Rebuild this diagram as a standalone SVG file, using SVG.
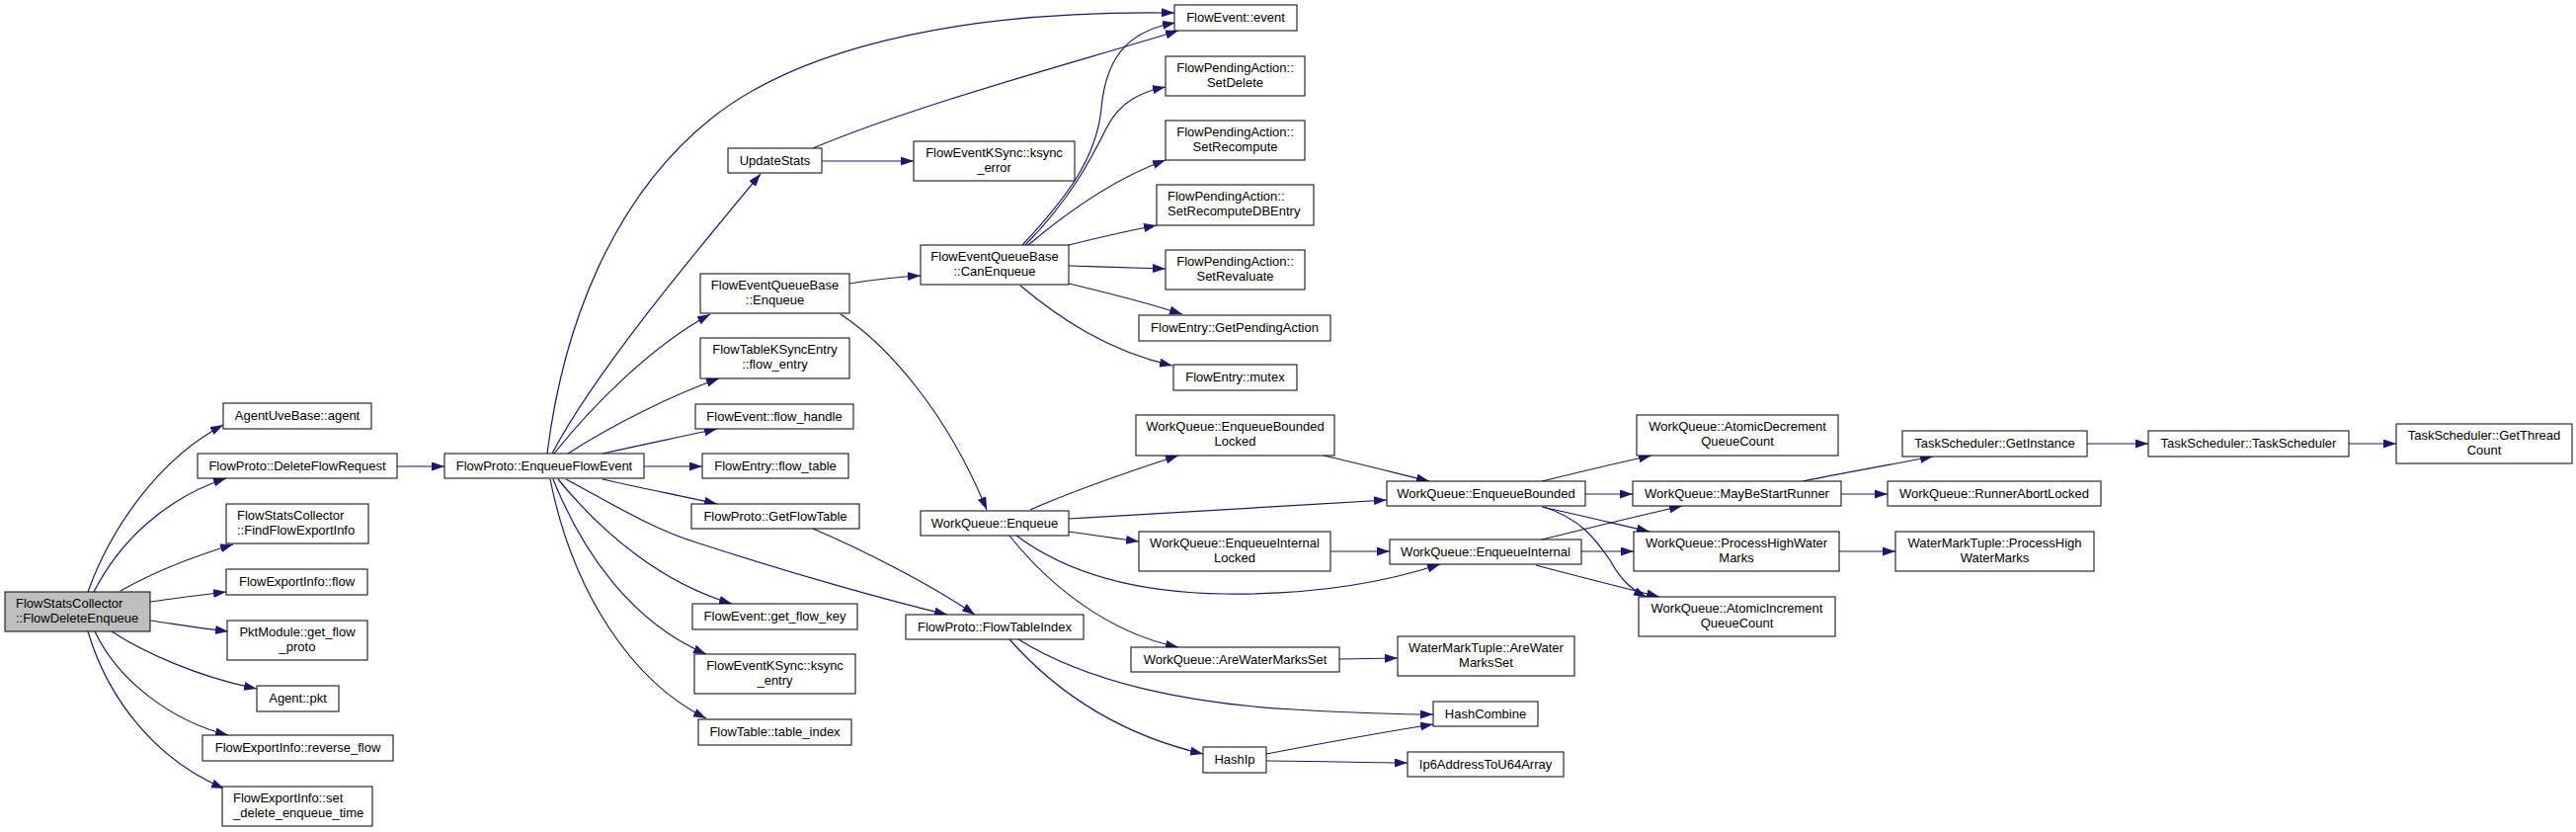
<svg xmlns="http://www.w3.org/2000/svg" width="2608" height="842" viewBox="0 0 2608 842">
<style>
.n rect{fill:#fff;stroke:#000;stroke-width:1}
.n.root rect{fill:#bfbfbf}
text{font-family:"Liberation Sans",Arial,Helvetica,sans-serif;font-size:13px;fill:#000}
.c{text-anchor:middle}
.l{text-anchor:start}
.e path{fill:none;stroke:#191970;stroke-width:1.2;marker-end:url(#ah)}
</style>
<defs>
<marker id="ah" markerUnits="userSpaceOnUse" markerWidth="14" markerHeight="10" refX="13" refY="4.5" orient="auto">
<path d="M0,0 L13,4.5 L0,9 z" fill="#191970" stroke="none"/>
</marker>
</defs>
<rect width="2608" height="842" fill="#fff"/>
<g id="edges" class="e">
<path d="M89,599 C112,535 160,465 226,430"/>
<path d="M95,599 C120,550 165,505 229,484"/>
<path d="M122,598 C150,582 190,565 236,551"/>
<path d="M152,609 C180,605 205,602 229,599"/>
<path d="M152,628 C180,632 205,636 231,639"/>
<path d="M113,639 C145,660 200,685 260,697"/>
<path d="M96,639 C120,690 175,730 231,744"/>
<path d="M89,639 C110,710 160,770 227,798"/>
<path d="M402,472 L450,472"/>
<path d="M554,459 C570,330 620,200 720,120 C820,40 1000,10 1189,13"/>
<path d="M559,459 C600,380 700,260 770,176"/>
<path d="M561,459 C600,410 660,350 719,318"/>
<path d="M575,459 C620,430 680,400 728,383"/>
<path d="M610,459 C650,450 690,442 726,434"/>
<path d="M652,472 L711,472"/>
<path d="M610,485 C650,494 690,502 726,510"/>
<path d="M573,485 C620,510 660,535 705,549 C800,580 900,608 959,622"/>
<path d="M565,485 C610,540 670,590 741,611"/>
<path d="M560,485 C590,560 640,630 715,662"/>
<path d="M557,485 C580,600 640,690 715,727"/>
<path d="M823,150 C930,105 1100,60 1193,31"/>
<path d="M832,163 L925,163"/>
<path d="M860,287 C885,283 910,280 932,279"/>
<path d="M851,318 C900,350 960,420 999,516"/>
<path d="M1035,248 C1080,200 1110,160 1115,110 C1120,50 1150,30 1190,23"/>
<path d="M1038,248 C1085,200 1105,160 1120,130 C1135,100 1160,92 1180,88"/>
<path d="M1041,248 C1080,215 1130,180 1180,162"/>
<path d="M1082,248 C1110,241 1140,234 1171,228"/>
<path d="M1082,269 C1115,270 1150,271 1180,272"/>
<path d="M1082,287 C1120,296 1160,306 1197,318"/>
<path d="M1033,289 C1070,320 1120,355 1187,370"/>
<path d="M1043,516 C1090,495 1150,475 1193,461"/>
<path d="M1082,525 C1200,518 1320,510 1404,506"/>
<path d="M1082,538 C1105,541 1130,545 1153,548"/>
<path d="M1029,542 C1080,580 1150,600 1240,601 C1330,602 1400,590 1458,571"/>
<path d="M1022,542 C1060,590 1120,640 1193,655"/>
<path d="M1340,461 C1375,469 1410,478 1447,487"/>
<path d="M1347,558 L1407,558"/>
<path d="M1561,487 C1598,478 1635,469 1672,461"/>
<path d="M1605,500 L1653,500"/>
<path d="M1561,513 C1598,521 1635,530 1670,538"/>
<path d="M1563,513 C1600,525 1615,545 1630,567 C1640,585 1650,596 1667,604"/>
<path d="M1561,546 C1610,534 1655,523 1703,512"/>
<path d="M1601,558 L1654,558"/>
<path d="M1555,572 C1600,584 1640,594 1680,604"/>
<path d="M1825,487 C1870,478 1915,470 1957,462"/>
<path d="M1864,500 L1911,500"/>
<path d="M2113,449 L2175,449"/>
<path d="M2378,449 L2426,449"/>
<path d="M1862,558 L1919,558"/>
<path d="M1356,667 L1415,666"/>
<path d="M823,535 C870,555 940,590 987,622"/>
<path d="M1031,647 C1100,690 1200,712 1310,718 C1380,722 1420,723 1451,723"/>
<path d="M1022,647 C1060,690 1120,740 1218,763"/>
<path d="M1282,763 C1340,752 1400,741 1451,733"/>
<path d="M1282,770 C1330,770 1380,772 1425,772"/>
</g>
<g id="n0" class="n root"><rect x="5" y="599" width="147" height="40"/><text class="l" x="16" y="615">FlowStatsCollector</text><text class="l" x="16" y="629.5">::FlowDeleteEnqueue</text></g>
<g id="n1" class="n"><rect x="226" y="408" width="150" height="26"/><text class="c" x="301" y="425">AgentUveBase::agent</text></g>
<g id="n2" class="n"><rect x="200" y="459" width="202" height="25"/><text class="c" x="301" y="476">FlowProto::DeleteFlowRequest</text></g>
<g id="n3" class="n"><rect x="229" y="510" width="144" height="40"/><text class="l" x="240" y="526">FlowStatsCollector</text><text class="l" x="240" y="540.5">::FindFlowExportInfo</text></g>
<g id="n4" class="n"><rect x="229" y="576" width="143" height="26"/><text class="c" x="300.5" y="593">FlowExportInfo::flow</text></g>
<g id="n5" class="n"><rect x="230" y="628" width="142" height="40"/><text class="c" x="301" y="644">PktModule::get_flow</text><text class="c" x="301" y="658.5">_proto</text></g>
<g id="n6" class="n"><rect x="260" y="694" width="83" height="26"/><text class="c" x="301.5" y="711">Agent::pkt</text></g>
<g id="n7" class="n"><rect x="205" y="744" width="193" height="26"/><text class="c" x="301.5" y="761">FlowExportInfo::reverse_flow</text></g>
<g id="n8" class="n"><rect x="225" y="796" width="152" height="40"/><text class="l" x="236" y="812">FlowExportInfo::set</text><text class="l" x="236" y="826.5">_delete_enqueue_time</text></g>
<g id="n9" class="n"><rect x="450" y="459" width="202" height="25"/><text class="c" x="551" y="476">FlowProto::EnqueueFlowEvent</text></g>
<g id="n10" class="n"><rect x="1189" y="5" width="124" height="26"/><text class="c" x="1251" y="22">FlowEvent::event</text></g>
<g id="n11" class="n"><rect x="737" y="150" width="95" height="25"/><text class="c" x="784.5" y="167">UpdateStats</text></g>
<g id="n12" class="n"><rect x="925" y="143" width="163" height="40"/><text class="c" x="1006.5" y="159">FlowEventKSync::ksync</text><text class="c" x="1006.5" y="173.5">_error</text></g>
<g id="n13" class="n"><rect x="709" y="277" width="151" height="40"/><text class="c" x="784.5" y="293">FlowEventQueueBase</text><text class="c" x="784.5" y="307.5">::Enqueue</text></g>
<g id="n14" class="n"><rect x="709" y="342" width="151" height="41"/><text class="c" x="784.5" y="358">FlowTableKSyncEntry</text><text class="c" x="784.5" y="372.5">::flow_entry</text></g>
<g id="n15" class="n"><rect x="704" y="409" width="160" height="25"/><text class="c" x="784" y="426">FlowEvent::flow_handle</text></g>
<g id="n16" class="n"><rect x="711" y="459" width="148" height="25"/><text class="c" x="785" y="476">FlowEntry::flow_table</text></g>
<g id="n17" class="n"><rect x="700" y="510" width="170" height="25"/><text class="c" x="785" y="527">FlowProto::GetFlowTable</text></g>
<g id="n18" class="n"><rect x="701" y="611" width="167" height="26"/><text class="c" x="784.5" y="628">FlowEvent::get_flow_key</text></g>
<g id="n19" class="n"><rect x="703" y="662" width="163" height="40"/><text class="c" x="784.5" y="678">FlowEventKSync::ksync</text><text class="c" x="784.5" y="692.5">_entry</text></g>
<g id="n20" class="n"><rect x="707" y="728" width="155" height="26"/><text class="c" x="784.5" y="745">FlowTable::table_index</text></g>
<g id="n21" class="n"><rect x="932" y="248" width="150" height="40"/><text class="c" x="1007" y="264">FlowEventQueueBase</text><text class="c" x="1007" y="278.5">::CanEnqueue</text></g>
<g id="n22" class="n"><rect x="932" y="517" width="150" height="25"/><text class="c" x="1007" y="534">WorkQueue::Enqueue</text></g>
<g id="n23" class="n"><rect x="917" y="622" width="180" height="25"/><text class="c" x="1007" y="639">FlowProto::FlowTableIndex</text></g>
<g id="n24" class="n"><rect x="1180" y="57" width="141" height="40"/><text class="c" x="1250.5" y="73">FlowPendingAction::</text><text class="c" x="1250.5" y="87.5">SetDelete</text></g>
<g id="n25" class="n"><rect x="1180" y="122" width="141" height="40"/><text class="c" x="1250.5" y="138">FlowPendingAction::</text><text class="c" x="1250.5" y="152.5">SetRecompute</text></g>
<g id="n26" class="n"><rect x="1171" y="187" width="159" height="41"/><text class="l" x="1182" y="203">FlowPendingAction::</text><text class="l" x="1182" y="217.5">SetRecomputeDBEntry</text></g>
<g id="n27" class="n"><rect x="1180" y="253" width="141" height="40"/><text class="c" x="1250.5" y="269">FlowPendingAction::</text><text class="c" x="1250.5" y="283.5">SetRevaluate</text></g>
<g id="n28" class="n"><rect x="1153" y="319" width="194" height="26"/><text class="c" x="1250" y="336">FlowEntry::GetPendingAction</text></g>
<g id="n29" class="n"><rect x="1188" y="369" width="125" height="26"/><text class="c" x="1250.5" y="386">FlowEntry::mutex</text></g>
<g id="n30" class="n"><rect x="1150" y="420" width="201" height="41"/><text class="c" x="1250.5" y="436">WorkQueue::EnqueueBounded</text><text class="c" x="1250.5" y="450.5">Locked</text></g>
<g id="n31" class="n"><rect x="1153" y="538" width="194" height="40"/><text class="c" x="1250" y="554">WorkQueue::EnqueueInternal</text><text class="c" x="1250" y="568.5">Locked</text></g>
<g id="n32" class="n"><rect x="1145" y="655" width="211" height="25"/><text class="c" x="1250.5" y="672">WorkQueue::AreWaterMarksSet</text></g>
<g id="n33" class="n"><rect x="1218" y="756" width="64" height="26"/><text class="c" x="1250" y="773">HashIp</text></g>
<g id="n34" class="n"><rect x="1404" y="487" width="201" height="25"/><text class="c" x="1504.5" y="504">WorkQueue::EnqueueBounded</text></g>
<g id="n35" class="n"><rect x="1407" y="546" width="194" height="25"/><text class="c" x="1504" y="563">WorkQueue::EnqueueInternal</text></g>
<g id="n36" class="n"><rect x="1415" y="644" width="179" height="40"/><text class="c" x="1504.5" y="660">WaterMarkTuple::AreWater</text><text class="c" x="1504.5" y="674.5">MarksSet</text></g>
<g id="n37" class="n"><rect x="1451" y="710" width="106" height="25"/><text class="c" x="1504" y="727">HashCombine</text></g>
<g id="n38" class="n"><rect x="1425" y="761" width="158" height="25"/><text class="c" x="1504" y="778">Ip6AddressToU64Array</text></g>
<g id="n39" class="n"><rect x="1657" y="420" width="204" height="41"/><text class="c" x="1759" y="436">WorkQueue::AtomicDecrement</text><text class="c" x="1759" y="450.5">QueueCount</text></g>
<g id="n40" class="n"><rect x="1653" y="487" width="211" height="25"/><text class="c" x="1758.5" y="504">WorkQueue::MayBeStartRunner</text></g>
<g id="n41" class="n"><rect x="1654" y="538" width="208" height="40"/><text class="c" x="1758" y="554">WorkQueue::ProcessHighWater</text><text class="c" x="1758" y="568.5">Marks</text></g>
<g id="n42" class="n"><rect x="1659" y="604" width="199" height="40"/><text class="c" x="1758.5" y="620">WorkQueue::AtomicIncrement</text><text class="c" x="1758.5" y="634.5">QueueCount</text></g>
<g id="n43" class="n"><rect x="1926" y="436" width="187" height="26"/><text class="c" x="2019.5" y="453">TaskScheduler::GetInstance</text></g>
<g id="n44" class="n"><rect x="1911" y="487" width="216" height="25"/><text class="c" x="2019" y="504">WorkQueue::RunnerAbortLocked</text></g>
<g id="n45" class="n"><rect x="1919" y="538" width="201" height="40"/><text class="c" x="2019.5" y="554">WaterMarkTuple::ProcessHigh</text><text class="c" x="2019.5" y="568.5">WaterMarks</text></g>
<g id="n46" class="n"><rect x="2175" y="436" width="203" height="26"/><text class="c" x="2276.5" y="453">TaskScheduler::TaskScheduler</text></g>
<g id="n47" class="n"><rect x="2426" y="429" width="178" height="40"/><text class="c" x="2515" y="445">TaskScheduler::GetThread</text><text class="c" x="2515" y="459.5">Count</text></g>
</svg>
